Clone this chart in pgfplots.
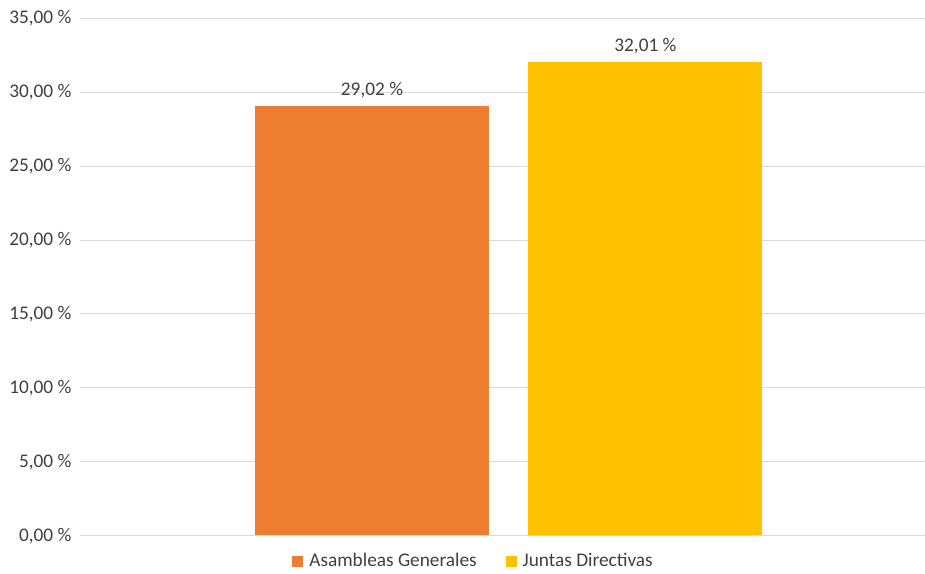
\documentclass[border=0pt]{standalone}
\usepackage{pgfplots}
\pgfplotsset{compat=1.18}
\usepackage{fontspec}
\setmainfont{Carlito}
\definecolor{txt}{HTML}{404040}
\definecolor{grd}{HTML}{D9D9D9}
\definecolor{c1}{HTML}{ED7D31}
\definecolor{c2}{HTML}{FFC000}
\begin{document}
\fontsize{19.3}{22}\selectfont
\begin{tikzpicture}
\begin{axis}[
  at={(0,0)}, anchor=south west,
  scale only axis, width=845pt, height=518pt,
  xmin=-1.068, xmax=2.021, ymin=0, ymax=35,
  ytick={0,5,...,35},
  xtick=\empty,
  ymajorgrids, grid style={grd, line width=0.75pt},
  axis line style={draw=none},
  major tick length=0pt,
  /pgf/number format/assume math mode=true,
  yticklabel={\pgfmathprintnumber[fixed,fixed zerofill,precision=2,use comma]{\tick} \%},
  yticklabel style={text=txt, font=\fontsize{19.3}{22}\selectfont, xshift=-2pt},
  ybar, bar width=0.856, bar shift=0pt,
  nodes near coords={\pgfmathprintnumber[fixed,fixed zerofill,precision=2,use comma,assume math mode=true]{\pgfplotspointmeta} \%},
  nodes near coords style={text=txt, font=\fontsize{19.3}{22}\selectfont, yshift=2pt},
  legend style={at={(0.466,-0.05)}, anchor=center, draw=none, legend columns=2,
    font=\fontsize{19.3}{22}\selectfont, text=txt,
    /tikz/every odd column/.append style={column sep=4pt},
    /tikz/every even column/.append style={column sep=27pt}},
  legend image code/.code={\fill[#1] (0pt,-5.5pt) rectangle (11pt,5.5pt);},
]
\addplot[fill=c1, draw=none] coordinates {(0,29.02)};
\addplot[fill=c2, draw=none] coordinates {(1,32.01)};
\legend{Asambleas Generales, Juntas Directivas}
\draw[grd, line width=1pt] (rel axis cs:0,0) -- (rel axis cs:1,0);
\end{axis}
\path[use as bounding box] (-80pt,-32pt) rectangle (845pt,536pt);
\end{tikzpicture}
\end{document}
